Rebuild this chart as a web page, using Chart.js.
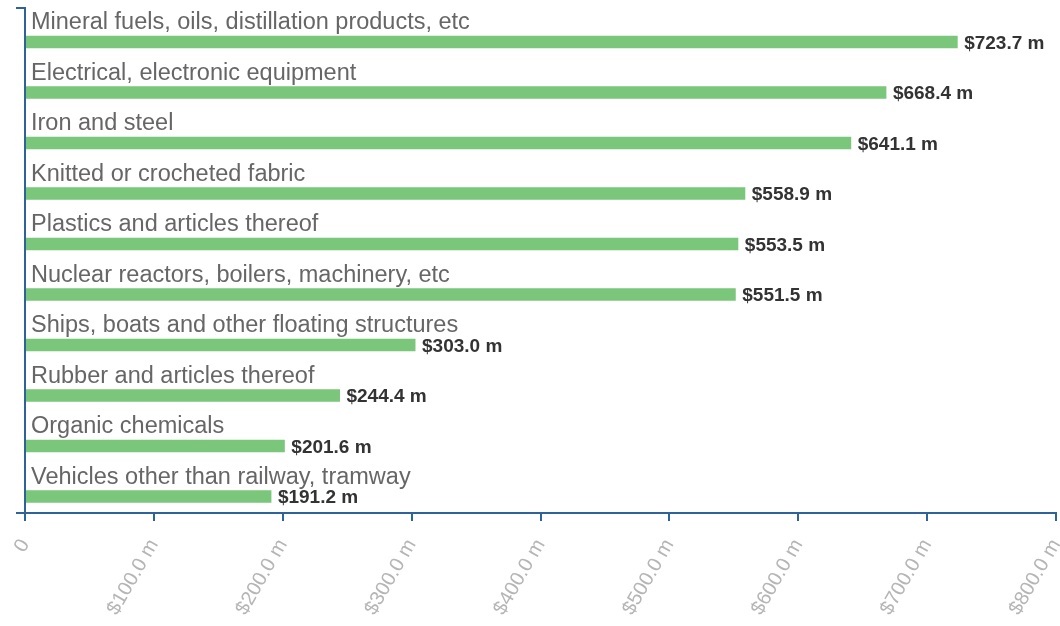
<!DOCTYPE html>
<html>
<head>
<meta charset="utf-8">
<script src="https://cdn.jsdelivr.net/npm/chart.js@4/dist/chart.umd.min.js"></script>
<style>
  html, body { margin: 0; padding: 0; background: #ffffff; }
  #wrap { width: 1060px; height: 626px; }
</style>
</head>
<body>
<div id="wrap"><canvas id="chart" width="1060" height="626"></canvas></div>
<script>
// Top export categories, values in millions of US dollars
const categories = [
  'Mineral fuels, oils, distillation products, etc',
  'Electrical, electronic equipment',
  'Iron and steel',
  'Knitted or crocheted fabric',
  'Plastics and articles thereof',
  'Nuclear reactors, boilers, machinery, etc',
  'Ships, boats and other floating structures',
  'Rubber and articles thereof',
  'Organic chemicals',
  'Vehicles other than railway, tramway'
];
const exportValues = [723.7, 668.4, 641.1, 558.9, 553.5, 551.5, 303.0, 244.4, 201.6, 191.2];
const axisTicks = [0, 100, 200, 300, 400, 500, 600, 700, 800];

const AXIS_BLUE = '#2e6399';
const BAR_GREEN = '#7ac67a';
const FONT = '"Liberation Sans", Arial, sans-serif';

function money(v) {
  return v === 0 ? '0' : '$' + v.toFixed(1) + ' m';
}

// Category names sit above each bar; amounts sit at the bar's end
const barLabels = {
  id: 'barLabels',
  afterDatasetsDraw(chart) {
    const ctx = chart.ctx;
    const meta = chart.getDatasetMeta(1);
    const left = chart.chartArea.left;
    ctx.save();
    meta.data.forEach((bar, i) => {
      const p = bar.getProps(['x', 'y', 'height'], true);
      ctx.textAlign = 'left';
      ctx.textBaseline = 'alphabetic';
      ctx.fillStyle = '#666666';
      ctx.font = '23.5px ' + FONT;
      ctx.fillText(categories[i], left + 6, p.y - p.height / 2 - 6.5);
      ctx.fillStyle = '#333333';
      ctx.font = 'bold 19px ' + FONT;
      ctx.textBaseline = 'middle';
      ctx.fillText(money(exportValues[i]), p.x + 6.5, p.y + 1.5);
    });
    ctx.restore();
  }
};

new Chart(document.getElementById('chart'), {
  type: 'bar',
  data: {
    labels: categories,
    datasets: [
      // empty upper slot in each row, where the category name is written
      { label: 'name row', data: categories.map(() => null), backgroundColor: 'transparent' },
      { label: 'Exports', data: exportValues, backgroundColor: BAR_GREEN, borderWidth: 0 }
    ]
  },
  options: {
    indexAxis: 'y',
    responsive: false,
    animation: false,
    categoryPercentage: 0.7,
    barPercentage: 0.71,
    layout: { padding: { left: 16, right: 4, top: 8, bottom: 0 } },
    plugins: {
      legend: { display: false },
      tooltip: { enabled: false }
    },
    scales: {
      x: {
        type: 'linear',
        min: 0,
        max: 800,
        afterBuildTicks(scale) { scale.ticks = axisTicks.map(v => ({ value: v })); },
        afterFit(scale) {
          scale.height = 113;
          scale.paddingLeft = 0;
          scale.paddingRight = 0;
        },
        border: { display: true, color: AXIS_BLUE, width: 2 },
        grid: { drawOnChartArea: false, drawTicks: true, tickLength: 8, color: AXIS_BLUE, lineWidth: 2 },
        ticks: {
          minRotation: 60,
          maxRotation: 60,
          padding: 14,
          color: '#b5b5b5',
          font: { family: FONT, size: 20 },
          callback: (v) => money(v)
        }
      },
      y: {
        afterFit(scale) {
          scale.width = 9;
          scale.paddingTop = 0;
          scale.paddingBottom = 0;
        },
        border: { display: true, color: AXIS_BLUE, width: 2 },
        grid: {
          offset: true,
          drawOnChartArea: false,
          tickLength: 9,
          lineWidth: 2,
          // only the two outer edge marks are shown
          color: (c) => (c.index === 0 || c.type === 'scale') ? AXIS_BLUE : 'rgba(0,0,0,0)'
        },
        ticks: { display: false }
      }
    }
  },
  plugins: [barLabels]
});
</script>
</body>
</html>
